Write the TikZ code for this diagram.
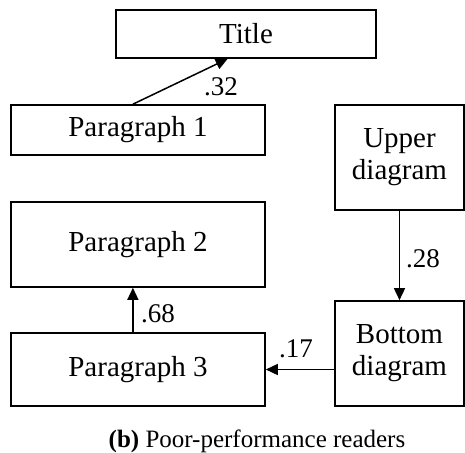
\documentclass[tikz,border=0pt]{standalone}
\usepackage{fontspec}
\setmainfont{Liberation Serif}
\usetikzlibrary{arrows.meta,calc}
\begin{document}
\begin{tikzpicture}[x=1pt,y=-1pt,
 box/.style={draw,line width=1.6pt,inner sep=0pt,align=center,font=\fontsize{29}{32}\selectfont},
 arr/.style={line width=1.5pt,-{Triangle[length=12pt,width=11pt]}},
 lbl/.style={font=\fontsize{27}{30}\selectfont,inner sep=0pt}]
\useasboundingbox (0,0) rectangle (465,452);
\node[box,minimum width=260pt,minimum height=48pt] (title) at (246,34) {Title};
\node[box,minimum width=254pt,minimum height=50pt] (p1) at (138,130) {Paragraph 1};
\node[box,minimum width=254pt,minimum height=85pt] (p2) at (138,244.5) {Paragraph 2};
\node[box,minimum width=254pt,minimum height=73pt] (p3) at (138,369.5) {Paragraph 3};
\node[box,minimum width=129pt,minimum height=105pt] (up) at (399.5,157.5) {Upper\\diagram};
\node[box,minimum width=129pt,minimum height=105pt] (bot) at (399.5,353.5) {Bottom\\diagram};
\draw[arr] ($(p1.north west)!0.48!(p1.north east)$) -- ($(title.south west)!0.43!(title.south east)$);
\draw[arr] ($(p3.north west)!0.48!(p3.north east)$) -- ($(p2.south west)!0.48!(p2.south east)$);
\draw[arr] (up.south) -- (bot.north);
\draw[arr] (bot.west |- p3.east) -- (p3.east);
\node[lbl] (l32) at (221,87) {.32};
\node[lbl] (l68) at (158,314) {.68};
\node[lbl] (l28) at (423,259) {.28};
\node[lbl] (l17) at (296,349) {.17};
\node[anchor=base,inner sep=0pt,font=\fontsize{25}{28}\selectfont] (cap) at (257,447) {\textbf{(b)} Poor-performance readers};
\end{tikzpicture}
\end{document}
